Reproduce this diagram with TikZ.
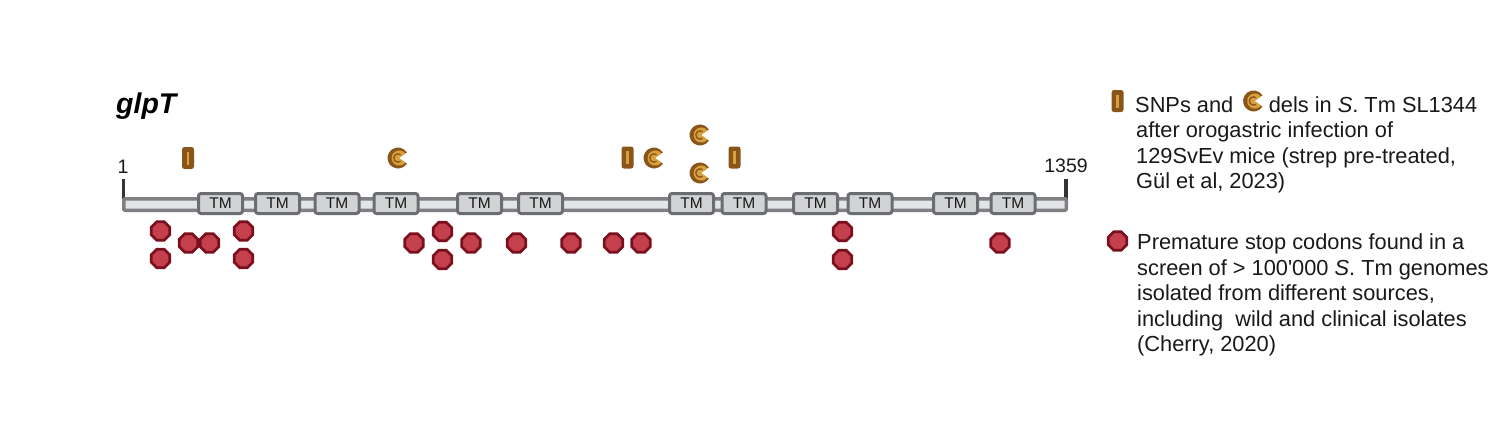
\documentclass[tikz,border=0pt]{standalone}
\usepackage{fontspec}
\setmainfont{Liberation Sans}
\usetikzlibrary{shapes.geometric}
\definecolor{barborder}{HTML}{7E8083}
\definecolor{barfill}{HTML}{E3E4E6}
\definecolor{tmborder}{HTML}{6C6D70}
\definecolor{tmfill}{HTML}{D1D3D5}
\definecolor{tickcol}{HTML}{333333}
\definecolor{snpbrown}{HTML}{8A5518}
\definecolor{snpgold}{HTML}{D9A040}
\definecolor{stopborder}{HTML}{7A0F1E}
\definecolor{stopfill}{HTML}{C4404C}
\tikzset{
  bar/.style={draw=barborder, fill=barfill, line width=3.5pt, inner sep=0pt, rounded corners=1pt},
  tmbox/.style={draw=tmborder, fill=tmfill, line width=3pt, rounded corners=2.5pt,
    minimum width=44pt, minimum height=20pt, inner sep=0pt,
    font=\fontsize{15.5}{15.5}\selectfont, text=black!90},
  stopcodon/.style={regular polygon, regular polygon sides=8, minimum size=20pt,
    draw=stopborder, fill=stopfill, line width=2.6pt, inner sep=0pt},
  tickline/.style={draw=tickcol, line width=3.5pt},
  legtext/.style={anchor=base west, inner sep=0pt, font=\fontsize{21.8}{25.5}\selectfont, text=black!90},
  numtext/.style={anchor=base, inner sep=0pt, font=\fontsize{19.5}{20}\selectfont, text=black!90},
  snp/.pic={
    \fill[snpbrown, rounded corners=2.5pt] (-6,-11) rectangle (6,11);
    \fill[snpgold] (-1.4,-6.5) rectangle (1.4,6.5);
  },
  pacman/.pic={
    \fill[snpbrown] (0,0) -- (32:10.5) arc[start angle=32, end angle=328, radius=10.5] -- cycle;
    \fill[snpgold] (1.2,0) -- ++(36:7.6) arc[start angle=36, end angle=324, radius=7.6] -- cycle;
    \draw[snpbrown, line width=1.3pt] (52:4.2) arc[start angle=52, end angle=308, radius=4.2];
  }
}
\begin{document}
\begin{tikzpicture}[x=1pt, y=-1pt]
\useasboundingbox (0,0) rectangle (1493,429);
% title
\node[anchor=base west, inner sep=0pt, font=\fontsize{28.5}{30}\selectfont\bfseries\itshape] (title) at (116,113) {glpT};
% ticks and numbers
\coordinate (lt0) at (123.5,179);
\coordinate (lt1) at (123.5,200);
\coordinate (rt0) at (1066,179);
\coordinate (rt1) at (1066,200);
\draw[tickline] (lt0) -- (lt1);
\draw[tickline] (rt0) -- (rt1);
\node[numtext] (n1) at (123,173) {1};
\node[numtext] (n1359) at (1066,172.5) {1359};
% protein bar
\node[bar, minimum width=942.5pt, minimum height=11.5pt] (bar) at (595,204.5) {};
% TM domains
\foreach \x [count=\i] in {220.5,277.5,337,396,479.5,540.5,691.5,744,815.5,870,955.5,1013}
  \node[tmbox] (tm\i) at (\x,203.5) {TM};
% SNPs
\pic at (188,158) {snp};
\pic at (627.5,157.5) {snp};
\pic at (734.5,157.5) {snp};
% deletions
\pic at (398,158) {pacman};
\pic at (654,158) {pacman};
\pic at (700,135) {pacman};
\pic at (700,173) {pacman};
% stop codons
\foreach \x/\y [count=\i] in {160.5/231, 160.5/258.5, 188.5/243, 209.5/243, 243.5/231, 243.5/258.5,
   414/243, 442.5/231.5, 442.5/259.5, 471/243, 516.5/243, 571/243, 613.5/243, 641/243,
   842.5/231.5, 842.5/259.5, 1000/243}
  \node[stopcodon] (stop\i) at (\x,\y) {};
% legend 1
\pic at (1117.5,101) {snp};
\node[legtext] (la1) at (1135,112) {SNPs and};
\coordinate (pacpos) at ([shift={(20,-11)}]la1.base east);
\pic at (pacpos) {pacman};
\node[legtext] (la1b) at ([shift={(35,0)}]la1.base east) {dels in {\itshape S}. Tm SL1344};
\node[legtext] (la2) at (1136,137.5) {after orogastric infection of};
\node[legtext] (la3) at (1136,163) {129SvEv mice (strep pre-treated,};
\node[legtext] (la4) at (1136,188.5) {Gül et al, 2023)};
% legend 2
\node[stopcodon] (legstop) at (1117.5,241) {};
\node[legtext] (lb1) at (1137,249.5) {Premature stop codons found in a};
\node[legtext] (lb2) at (1137,275) {screen of > 100\textquotesingle 000 {\itshape S}. Tm genomes};
\node[legtext] (lb3) at (1137,300.5) {isolated from different sources,};
\node[legtext] (lb4) at (1137,326) {including\ \ wild and clinical isolates};
\node[legtext] (lb5) at (1137,351.5) {(Cherry, 2020)};
\end{tikzpicture}
\end{document}
